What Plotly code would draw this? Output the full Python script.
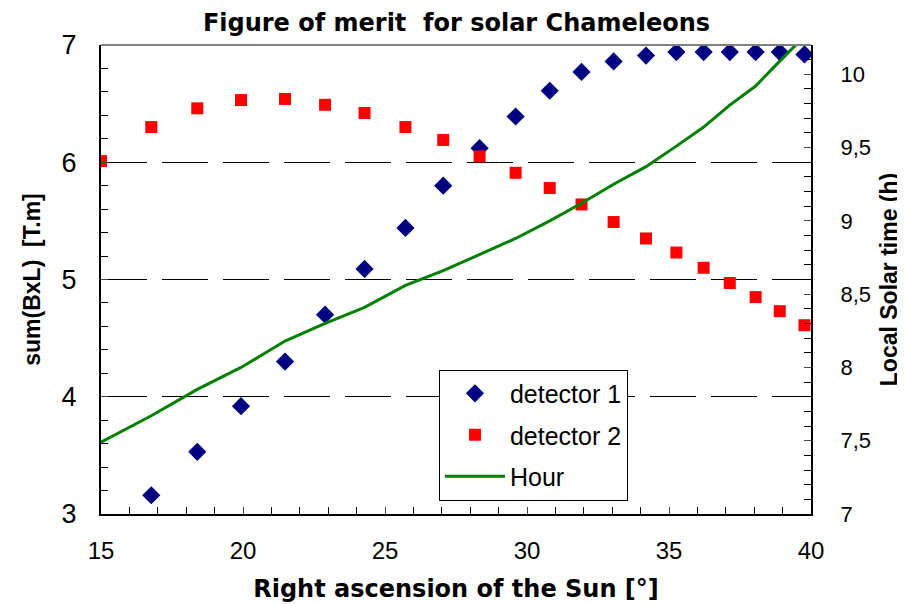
import plotly.graph_objects as go

# right ascension of the Sun [deg] at each sample
ra_all = [15.0, 16.77, 18.39, 19.93, 21.48, 22.89, 24.28, 25.72, 27.05, 28.33,
          29.60, 30.80, 31.92, 33.05, 34.19, 35.26, 36.22, 37.14, 38.05, 38.90, 39.77]
ra_det1 = ra_all[1:]

det1 = [3.16, 3.53, 3.92, 4.30, 4.70, 5.09, 5.44, 5.80, 6.12, 6.39,
        6.61, 6.77, 6.86, 6.91, 6.94, 6.94, 6.94, 6.94, 6.94, 6.92]
det2 = [6.01, 6.30, 6.46, 6.53, 6.54, 6.49, 6.42, 6.30, 6.19, 6.05, 5.91,
        5.78, 5.64, 5.49, 5.35, 5.23, 5.10, 4.97, 4.85, 4.73, 4.61]
hour = [7.49, 7.67, 7.85, 8.00, 8.18, 8.30, 8.41, 8.56, 8.66, 8.77, 8.88,
        9.00, 9.12, 9.25, 9.37, 9.51, 9.64, 9.79, 9.92, 10.09, 10.26]

FONT = "Liberation Sans"
WIDE = "DejaVu Sans"

fig = go.Figure()
fig.add_trace(go.Scatter(
    x=ra_det1, y=det1, mode="markers", name="detector 1", legendgroup="a",
    marker=dict(symbol="diamond", size=14, color="#000080"),
))
fig.add_trace(go.Scatter(
    x=ra_all, y=det2, mode="markers", name="detector 2", legendgroup="b",
    marker=dict(symbol="square", size=12, color="#ff0000"),
))
fig.add_trace(go.Scatter(
    x=ra_all, y=hour, mode="lines", name="Hour", legendgroup="c", yaxis="y2",
    line=dict(color="#008000", width=3),
))

fig.add_shape(type="line", xref="paper", yref="paper", x0=0, x1=1, y0=1, y1=1,
              line=dict(color="#808080", width=2), layer="above")

# the page body adds 8px around the figure, so the figure is a bit smaller
fig.update_layout(
    width=897, height=596,
    margin=dict(l=93, r=94, t=37, b=90),
    paper_bgcolor="white", plot_bgcolor="white",
    separators=", ",
    font=dict(family=FONT, color="black"),
    title=dict(text="<b>Figure of merit  for solar Chameleons</b>",
               x=0.5, xanchor="center", y=0.976, yanchor="middle",
               font=dict(family=WIDE, size=24, color="black")),
    xaxis=dict(
        range=[15, 40], dtick=5, ticks="inside", ticklen=7, tickwidth=1,
        showline=True, linecolor="black", linewidth=2, showgrid=False, zeroline=False,
        minor=dict(dtick=1, ticks="inside", ticklen=7, tickcolor="black"),
        tickfont=dict(size=24), ticklabelstandoff=14, automargin=False,
        title=dict(text="<b>Right ascension of the Sun [°]</b>",
                   font=dict(family=WIDE, size=24), standoff=17),
    ),
    yaxis=dict(
        range=[3, 7], dtick=1, ticks="inside", ticklen=7, tickwidth=1,
        showline=True, linecolor="black", linewidth=2, zeroline=False,
        showgrid=True, gridcolor="black", gridwidth=1, griddash="46px,15px",
        minor=dict(dtick=0.2, ticks="inside", ticklen=7, tickcolor="black"),
        tickfont=dict(size=27), ticklabelstandoff=17, automargin=False,
        title=dict(text="<b>sum(BxL)  [T.m]</b>", font=dict(size=23), standoff=15),
    ),
    yaxis2=dict(
        overlaying="y", side="right", range=[7, 10.2], dtick=0.5,
        ticks="inside", ticklen=7, tickwidth=1, automargin=False,
        showline=True, linecolor="black", linewidth=2, showgrid=False, zeroline=False,
        minor=dict(dtick=0.1, ticks="inside", ticklen=7, tickcolor="black"),
        tickfont=dict(size=22), ticklabelstandoff=23,
        title=dict(text="<b>Local Solar time (h)</b>", font=dict(size=23), standoff=11),
    ),
    showlegend=True,
    legend=dict(
        x=0.476, y=0.308, xanchor="left", yanchor="top",
        bgcolor="white", bordercolor="black", borderwidth=1,
        font=dict(size=25), tracegroupgap=6, itemwidth=60,
    ),
)

fig.write_html("out.html")
